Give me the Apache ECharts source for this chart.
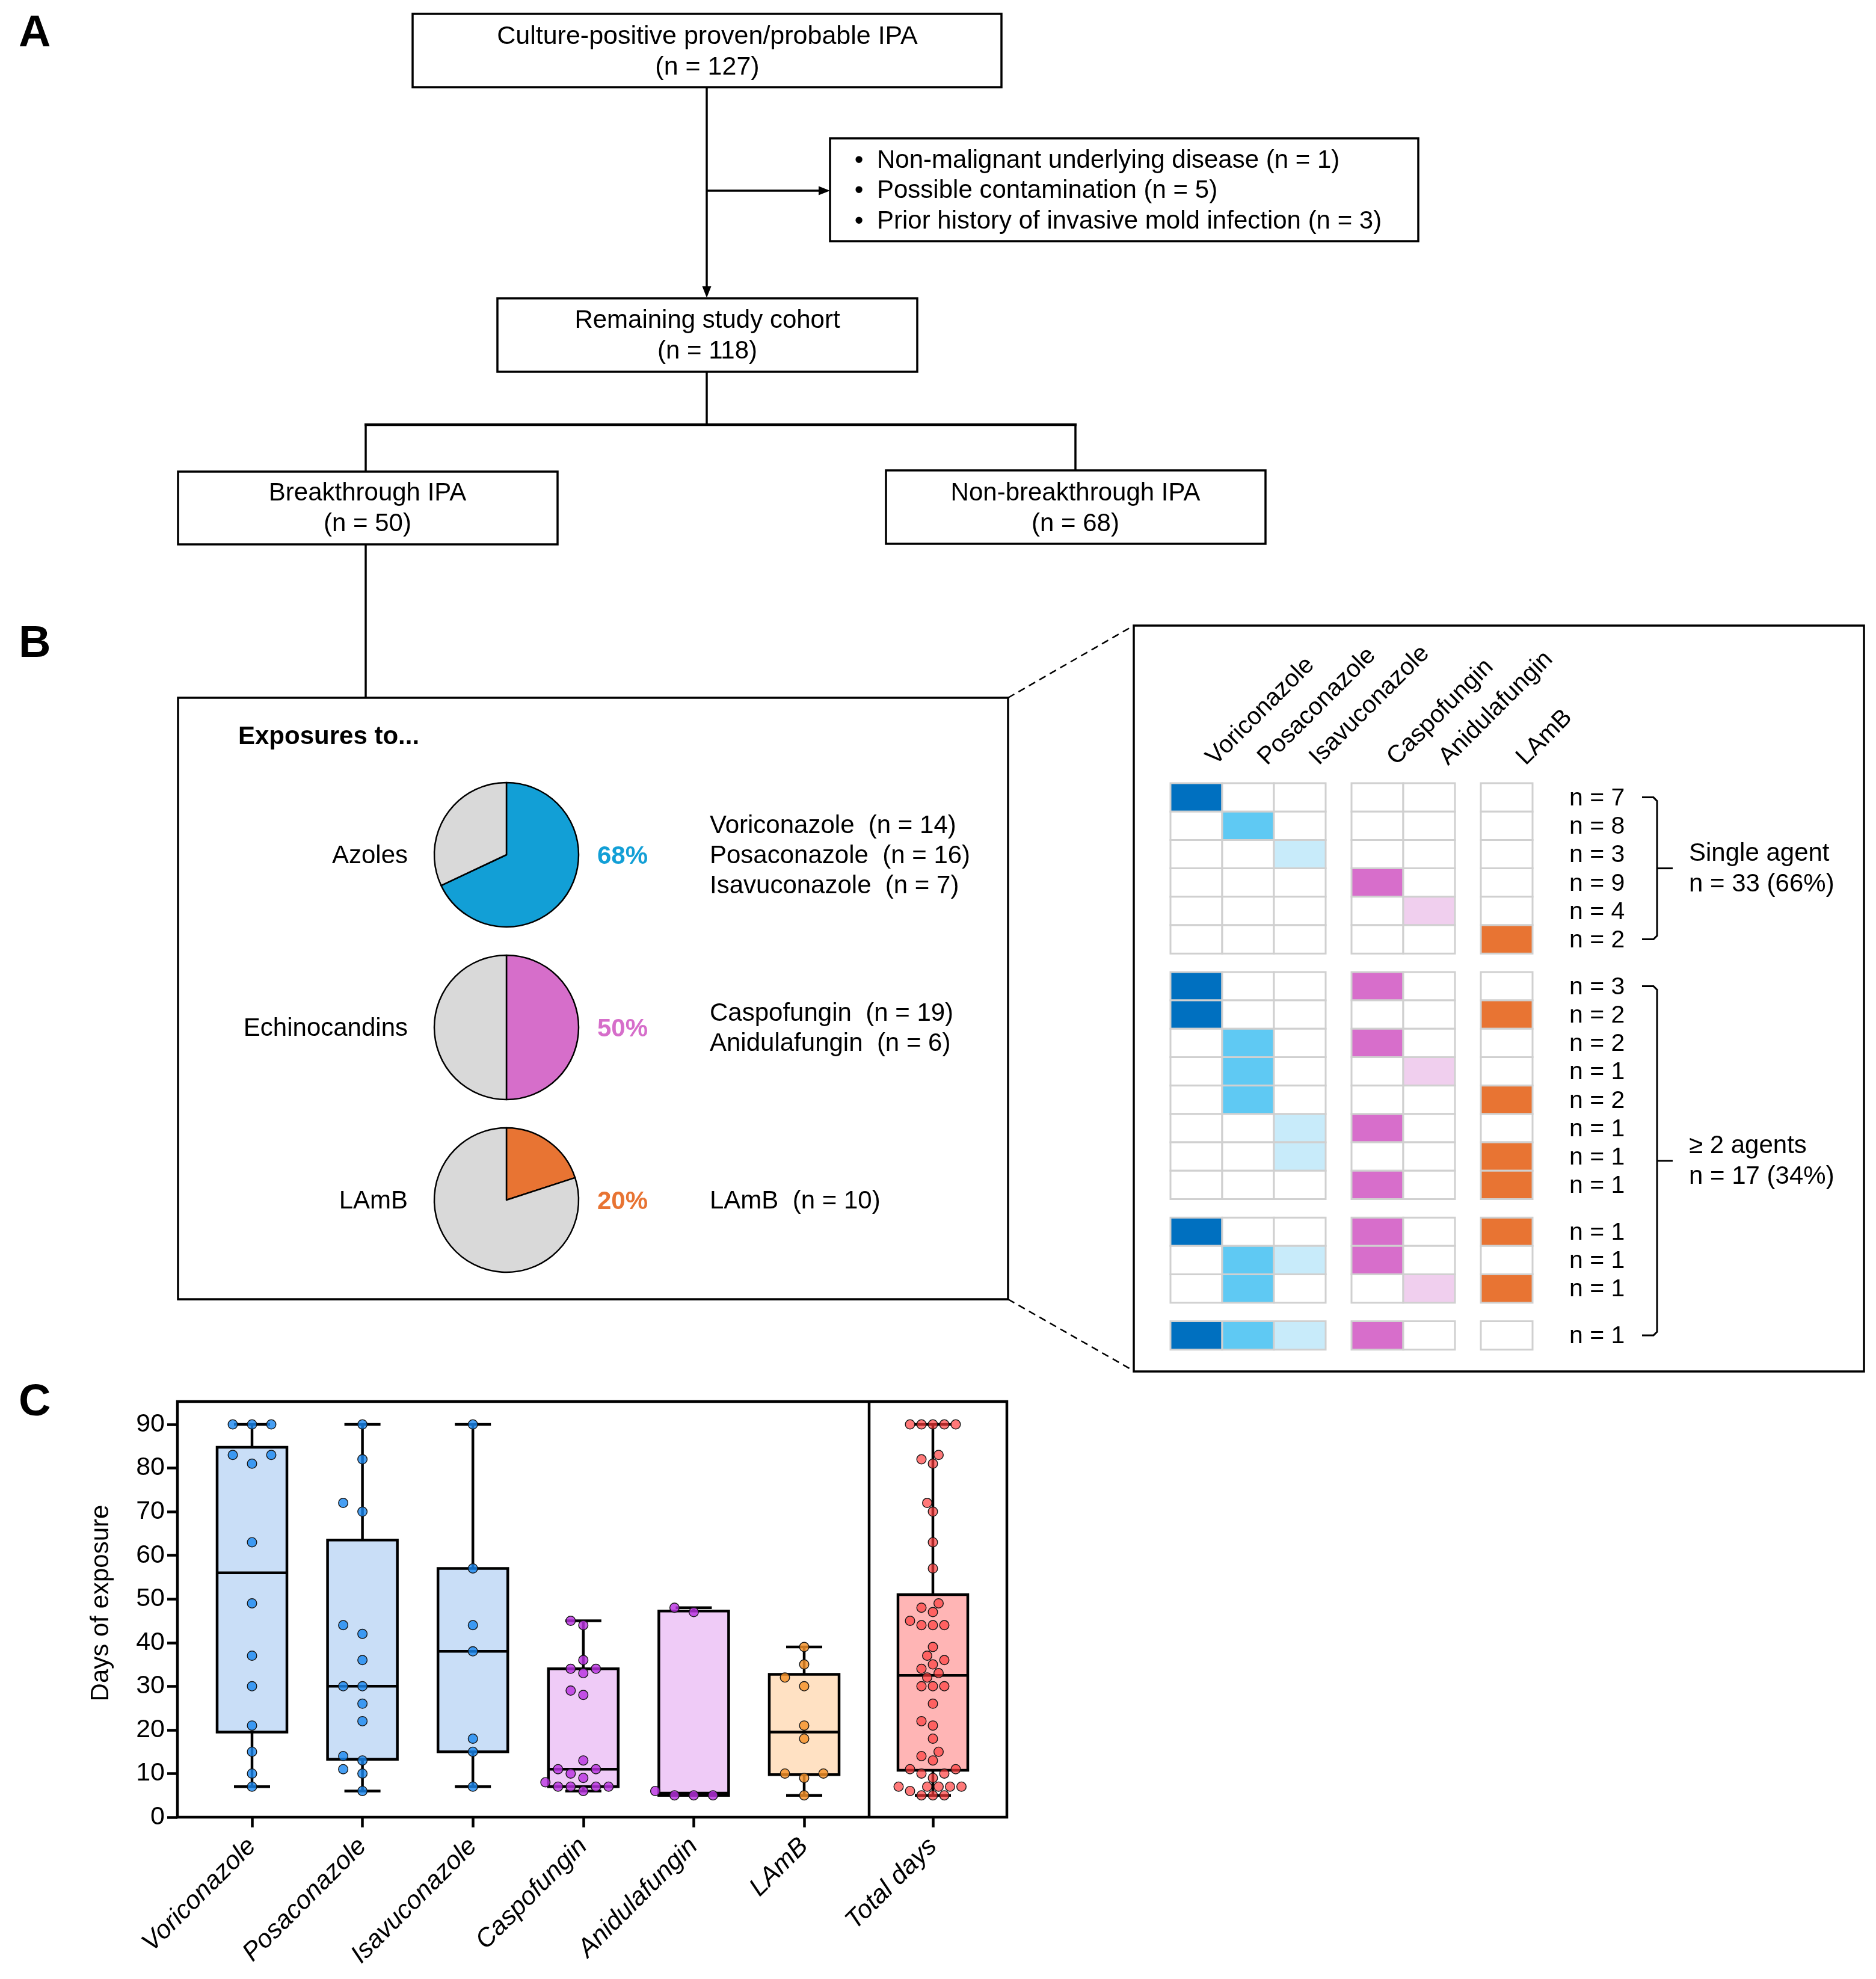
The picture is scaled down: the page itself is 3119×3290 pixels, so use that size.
<!DOCTYPE html>
<html>
<head>
<meta charset="utf-8">
<title>Breakthrough IPA</title>
<script src="https://cdn.jsdelivr.net/npm/echarts@6/dist/echarts.min.js"></script>
<style>
html,body{margin:0;padding:0;background:#ffffff;}
#chart{width:3119px;height:3290px;}
</style>
</head>
<body>
<div id="chart"></div>
<script>
// ================= DATA =================
const cohortTotal = 127;
const exclusionLabels = ['Non-malignant underlying disease', 'Possible contamination', 'Prior history of invasive mold infection'];
const exclusionN = [1, 5, 3];
const cohortRemaining = 118;
const breakthroughN = 50;
const nonBreakthroughN = 68;

const classNames = ['Azoles', 'Echinocandins', 'LAmB'];
const classPercent = [68, 50, 20];

const drugNames = ['Voriconazole', 'Posaconazole', 'Isavuconazole', 'Caspofungin', 'Anidulafungin', 'LAmB'];
const drugN = [14, 16, 7, 19, 6, 10];
const drugClass = [0, 0, 0, 1, 1, 2];

// regimen rows of the exposure matrix (indices into drugNames)
const regimens = [[0], [1], [2], [3], [4], [5],
  [0, 3], [0, 5], [1, 3], [1, 4], [1, 5], [2, 3], [2, 5], [3, 5],
  [0, 3, 5], [1, 2, 3], [1, 4, 5],
  [0, 1, 2, 3]];
const regimenN = [7, 8, 3, 9, 4, 2, 3, 2, 2, 1, 2, 1, 1, 1, 1, 1, 1, 1];
const regimenBlock = [0, 0, 0, 0, 0, 0, 1, 1, 1, 1, 1, 1, 1, 1, 2, 2, 2, 3];

// days of exposure (panel C)
const daysVoriconazole = [90, 90, 90, 83, 83, 81, 63, 49, 37, 30, 21, 15, 10, 7];
const daysPosaconazole = [90, 82, 72, 70, 44, 42, 36, 30, 30, 26, 22, 14, 13, 11, 10, 6];
const daysIsavuconazole = [90, 57, 44, 38, 18, 15, 7];
const daysCaspofungin = [45, 44, 36, 34, 34, 33, 29, 28, 13, 11, 11, 10, 9, 8, 7, 7, 7, 7, 6];
const daysAnidulafungin = [48, 47, 6, 5, 5, 5];
const daysLAmB = [39, 35, 32, 30, 21, 18, 10, 10, 9, 5];
const daysTotal = [90, 90, 90, 90, 90, 83, 82, 81, 72, 70, 63, 57, 49, 48, 47, 45, 44, 44, 44, 39, 37, 36, 35, 34, 33, 32,
  30, 30, 30, 26, 22, 21, 18, 15, 14, 13, 11, 11, 10, 10, 9, 7, 7, 7, 7, 7, 6, 5, 5, 5];
const totalCategory = ['Total days'];
const yAxisTitle = 'Days of exposure';

// ================= STYLE =================
const FONT = '"Liberation Sans", Arial, Helvetica, sans-serif';
const drugColors = ['#0070C0', '#5FC9F3', '#C8EBFA', '#D76ECB', '#F0CFEE', '#E87433'];
const classColors = ['#129FD6', '#D66ECA', '#E87433'];
const restColor = '#D9D9D9';
const boxFills = ['#C9DEF7', '#C9DEF7', '#C9DEF7', '#EFCBF7', '#EFCBF7', '#FFE1C3'];
const totalFill = '#FFB5B5';
const pointFills = ['rgba(25,135,240,0.80)', 'rgba(25,135,240,0.80)', 'rgba(25,135,240,0.80)',
  'rgba(185,50,225,0.82)', 'rgba(185,50,225,0.82)', 'rgba(245,145,40,0.82)'];
const totalPointFill = 'rgba(255,58,58,0.68)';

// ================= HELPERS =================
function font(size, weight, style) {
  return (style || 'normal') + ' ' + (weight || 'normal') + ' ' + size + 'px ' + FONT;
}
function txt(x, y, text, o) {
  o = o || {};
  return {
    type: 'text', x: x, y: y, rotation: o.rotation || 0, z: 30, silent: true,
    style: {
      text: text, fill: o.fill || '#000', font: font(o.size || 42, o.weight, o.fontStyle),
      align: o.align || 'left', textAlign: o.align || 'left',
      verticalAlign: o.va || 'middle', textVerticalAlign: o.va || 'middle',
      lineHeight: o.lh || 50
    }
  };
}
function line(x1, y1, x2, y2, w, dash) {
  return { type: 'line', z: 25, silent: true, shape: { x1: x1, y1: y1, x2: x2, y2: y2 },
    style: { stroke: '#000', lineWidth: w || 3.5, lineDash: dash || null } };
}
function rect(x, y, w, h, lw) {
  return { type: 'rect', z: 25, silent: true, shape: { x: x, y: y, width: w, height: h },
    style: { fill: null, stroke: '#000', lineWidth: lw || 3.5 } };
}
function poly(points, fill) {
  return { type: 'polygon', z: 26, silent: true, shape: { points: points }, style: { fill: fill || '#000' } };
}
function pline(points, w) {
  return { type: 'polyline', z: 25, silent: true, shape: { points: points },
    style: { fill: null, stroke: '#000', lineWidth: w || 3.5 } };
}
// Prism-like quartiles ((n+1)p positions)
function quant(sorted, p) {
  const n = sorted.length, pos = (n + 1) * p, lo = Math.floor(pos), fr = pos - lo;
  if (lo < 1) return sorted[0];
  if (lo >= n) return sorted[n - 1];
  return sorted[lo - 1] + fr * (sorted[lo] - sorted[lo - 1]);
}
function boxStats(vals) {
  const s = vals.slice().sort((a, b) => a - b);
  return [s[0], quant(s, 0.25), quant(s, 0.5), quant(s, 0.75), s[s.length - 1]];
}
// deterministic beeswarm: slot offsets in px
function swarm(vals, pxPerUnit) {
  const D = 15.6, maxW = 123;
  const order = vals.map((v, i) => i).sort((a, b) => vals[a] - vals[b] || a - b);
  let last = null;
  for (let s = 32; s >= 6; s -= 0.5) {
    const slot = new Array(vals.length), placed = [];
    for (const i of order) {
      for (let k = 0; k < 60; k++) {
        const cand = k === 0 ? 0 : (k % 2 ? -Math.ceil(k / 2) : Math.ceil(k / 2));
        let ok = true;
        for (const j of placed) {
          const dx = (cand - slot[j]) * s, dy = (vals[i] - vals[j]) * pxPerUnit;
          if (dx * dx + dy * dy < D * D - 0.01) { ok = false; break; }
        }
        if (ok) { slot[i] = cand; placed.push(i); break; }
      }
    }
    const mn = Math.min.apply(null, slot), mx = Math.max.apply(null, slot);
    last = slot.map(k => k * s);
    if ((mx - mn) * s + D <= maxW) return last;
  }
  return last;
}

// ================= LAYOUT =================
const plotTop = 2368, plotBottom = 3021, band = 183.6;
const pxPerDay = (plotBottom - plotTop) / 90;
const c0 = 419;            // first category centre
const cTotal = 1551;       // total days centre
const mLeft = 1946, mTop = 1302, cellW = 86, cellH = 47.2, colGap = 0.5, rowGap = 0.65;
const mRows = regimens.length + rowGap * (regimenBlock[regimenBlock.length - 1]);
function rowCenterPx(r) { return mTop + (r + rowGap * regimenBlock[r] + 0.5) * cellH; }

const drugDays = [daysVoriconazole, daysPosaconazole, daysIsavuconazole, daysCaspofungin, daysAnidulafungin, daysLAmB];
const boxData = drugDays.map((d, i) => [i].concat(boxStats(d)));
const boxTotalData = [[0].concat(boxStats(daysTotal))];
const pointData = [];
drugDays.forEach((d, i) => { const off = swarm(d, pxPerDay); d.forEach((v, k) => pointData.push([i, v, off[k]])); });
const offT = swarm(daysTotal, pxPerDay);
const pointTotalData = daysTotal.map((v, k) => [0, v, offT[k]]);

const cellData = [];
regimens.forEach((reg, r) => {
  drugNames.forEach((nm, d) => {
    cellData.push([d + colGap * drugClass[d], r + rowGap * regimenBlock[r], reg.indexOf(d) >= 0 ? d : -1]);
  });
});
const colLabelData = drugNames.map((nm, d) => [d + colGap * drugClass[d] + 0.5, 0, d]);
const rowLabelData = regimens.map((reg, r) => [7, r + rowGap * regimenBlock[r] + 0.5, regimenN[r]]);

// ================= GRAPHIC (flowchart, frames, annotations) =================
const g = [];
// panel letters
g.push(txt(31, 57, 'A', { size: 74, weight: 'bold' }));
g.push(txt(31, 1072, 'B', { size: 74, weight: 'bold' }));
g.push(txt(31, 2333, 'C', { size: 74, weight: 'bold' }));

// Panel A flowchart
g.push(rect(686, 23, 979, 122));
g.push(txt(1176, 87, 'Culture-positive proven/probable IPA\n(n = ' + cohortTotal + ')', { align: 'center', lh: 51, size: 43 }));
g.push(line(1175, 145, 1175, 480));
g.push(poly([[1175, 495], [1167.5, 476], [1182.5, 476]]));
g.push(line(1175, 317, 1366, 317));
g.push(poly([[1380, 317], [1361, 309.5], [1361, 324.5]]));
g.push(rect(1380, 230, 978, 171));
exclusionLabels.forEach((l, i) => {
  const y = 267 + i * 50.5;
  g.push(txt(1428, y, '•', { align: 'center' }));
  g.push(txt(1458, y, l + ' (n = ' + exclusionN[i] + ')'));
});
g.push(rect(827, 496, 698, 122));
g.push(txt(1176, 559, 'Remaining study cohort\n(n = ' + cohortRemaining + ')', { align: 'center', lh: 51 }));
g.push(line(1175, 618, 1175, 706));
g.push(line(606, 706, 1790, 706, 4.5));
g.push(line(608, 706, 608, 784));
g.push(line(1788, 706, 1788, 782));
g.push(rect(296, 784, 631, 121));
g.push(txt(611, 846, 'Breakthrough IPA\n(n = ' + breakthroughN + ')', { align: 'center', lh: 51 }));
g.push(rect(1473, 782, 631, 122));
g.push(txt(1788, 846, 'Non-breakthrough IPA\n(n = ' + nonBreakthroughN + ')', { align: 'center', lh: 51 }));
g.push(line(608, 905, 608, 1160));

// Panel B
g.push(rect(296, 1160, 1380, 1000));
g.push(line(1676, 1160, 1885, 1040, 2.5, [12, 8]));
g.push(line(1676, 2160, 1885, 2279, 2.5, [12, 8]));
g.push(rect(1885, 1040, 1214, 1240));
g.push(txt(396, 1225, 'Exposures to...', { weight: 'bold' }));
const pieCY = [1421, 1708, 1995];
classNames.forEach((c, i) => {
  g.push(txt(678, pieCY[i] + 2, c, { align: 'right' }));
  g.push(txt(993, pieCY[i] + 3, classPercent[i] + '%', { weight: 'bold', fill: classColors[i] }));
  const lines = drugNames.map((n, d) => drugClass[d] === i ? n + '  (n = ' + drugN[d] + ')' : null).filter(Boolean);
  g.push(txt(1180, pieCY[i] + 2, lines.join('\n'), { lh: 50 }));
});

// brackets
const singleLast = regimens.filter(r => r.length === 1).length - 1;
const brackets = [[0, singleLast], [singleLast + 1, regimens.length - 1]];
const sumN = (a, b) => regimenN.slice(a, b + 1).reduce((s, v) => s + v, 0);
const groupTitles = ['Single agent', '≥ 2 agents'];
brackets.forEach((br, i) => {
  const top = rowCenterPx(br[0]), bot = rowCenterPx(br[1]);
  const mid = (top + bot) / 2;
  g.push(pline([[2730, top], [2749, top], [2755, top + 6], [2755, bot - 6], [2749, bot], [2730, bot]], 3));
  g.push(line(2755, mid, 2781, mid, 3));
  const n = sumN(br[0], br[1]);
  g.push(txt(2808, mid + 1, groupTitles[i] + '\nn = ' + n + ' (' + Math.round(n / breakthroughN * 100) + '%)', { lh: 51 }));
});

// Panel C frame
g.push(rect(295, 2330, 1379, 691, 4.5));
g.push(line(1445, 2330, 1445, 3021, 4.5));
g.push(txt(168, 2665, yAxisTitle, { align: 'center', rotation: Math.PI / 2 }));

// ================= RENDERERS =================
function renderBox(fills) {
  return function (params, api) {
    const x = api.value(0);
    const bw = api.size([1, 0])[0] * 0.632, cw = 60;
    const cx = api.coord([x, 0])[0];
    const y = [1, 2, 3, 4, 5].map(k => api.coord([x, api.value(k)])[1]);
    const st = { stroke: '#000', lineWidth: 4.5, fill: null };
    return { type: 'group', children: [
      { type: 'rect', shape: { x: cx - bw / 2, y: y[3], width: bw, height: y[1] - y[3] }, style: { fill: fills[x], stroke: '#000', lineWidth: 4.5 } },
      { type: 'line', shape: { x1: cx, y1: y[3], x2: cx, y2: y[4] }, style: st },
      { type: 'line', shape: { x1: cx, y1: y[1], x2: cx, y2: y[0] }, style: st },
      { type: 'line', shape: { x1: cx - cw / 2, y1: y[4], x2: cx + cw / 2, y2: y[4] }, style: st },
      { type: 'line', shape: { x1: cx - cw / 2, y1: y[0], x2: cx + cw / 2, y2: y[0] }, style: st },
      { type: 'line', shape: { x1: cx - bw / 2, y1: y[2], x2: cx + bw / 2, y2: y[2] }, style: st }
    ] };
  };
}
function renderPoint(fills) {
  return function (params, api) {
    const p = api.coord([api.value(0), api.value(1)]);
    return { type: 'circle', shape: { cx: p[0] + api.value(2), cy: p[1], r: 7.8 },
      style: { fill: fills[api.value(0)], stroke: '#151515', lineWidth: 1.4 } };
  };
}
function renderCell(params, api) {
  const p0 = api.coord([api.value(0), api.value(1)]);
  const p1 = api.coord([api.value(0) + 1, api.value(1) + 1]);
  const c = api.value(2);
  return { type: 'rect', shape: { x: p0[0], y: p0[1], width: p1[0] - p0[0], height: p1[1] - p0[1] },
    style: { fill: c >= 0 ? drugColors[c] : '#ffffff', stroke: '#D0D0D0', lineWidth: 3 } };
}
function renderColLabel(params, api) {
  const p = api.coord([api.value(0), 0]);
  return { type: 'text', x: p[0] + 38, y: p[1] - 22, rotation: Math.PI / 4,
    style: { text: drugNames[api.value(2)], fill: '#000', font: font(41), align: 'left', textAlign: 'left', verticalAlign: 'bottom', textVerticalAlign: 'bottom' } };
}
function renderRowLabel(params, api) {
  const p = api.coord([api.value(0), api.value(1)]);
  return { type: 'text', x: p[0] + 61, y: p[1] + 2,
    style: { text: 'n = ' + api.value(2), fill: '#000', font: font(41), align: 'left', textAlign: 'left', verticalAlign: 'middle', textVerticalAlign: 'middle' } };
}

// ================= OPTION =================
const catAxisCommon = {
  type: 'category', boundaryGap: true,
  axisLine: { show: false },
  axisTick: { show: true, alignWithLabel: true, length: 17, lineStyle: { color: '#000', width: 4.5 } },
  axisLabel: { interval: 0, rotate: 45, margin: 42, color: '#000', fontSize: 43, fontStyle: 'italic', fontFamily: FONT },
  splitLine: { show: false }
};
const option = {
  backgroundColor: '#ffffff',
  animation: false,
  graphic: { elements: g },
  grid: [
    { left: c0 - band / 2, top: plotTop, width: band * 6, height: plotBottom - plotTop, containLabel: false, outerBoundsMode: 'none' },
    { left: cTotal - band / 2, top: plotTop, width: band, height: plotBottom - plotTop, containLabel: false, outerBoundsMode: 'none' },
    { left: mLeft, top: mTop, width: cellW * 7, height: cellH * mRows, containLabel: false, outerBoundsMode: 'none' }
  ],
  xAxis: [
    Object.assign({ gridIndex: 0, data: drugNames }, catAxisCommon),
    Object.assign({ gridIndex: 1, data: totalCategory }, catAxisCommon),
    { gridIndex: 2, type: 'value', min: 0, max: 7, show: false }
  ],
  yAxis: [
    { gridIndex: 0, type: 'value', min: 0, max: 90, interval: 10, offset: c0 - band / 2 - 295,
      axisLine: { show: false },
      axisTick: { show: true, length: 17, lineStyle: { color: '#000', width: 4.5 } },
      axisLabel: { color: '#000', fontSize: 43, fontFamily: FONT, margin: 21 },
      splitLine: { show: false } },
    { gridIndex: 1, type: 'value', min: 0, max: 90, interval: 10, show: false, splitLine: { show: false } },
    { gridIndex: 2, type: 'value', min: 0, max: mRows, inverse: true, show: false }
  ],
  series: [
    { type: 'custom', name: 'box', xAxisIndex: 0, yAxisIndex: 0, silent: true, clip: false, z: 2,
      renderItem: renderBox(boxFills), data: boxData },
    { type: 'custom', name: 'boxTotal', xAxisIndex: 1, yAxisIndex: 1, silent: true, clip: false, z: 2,
      renderItem: renderBox([totalFill]), data: boxTotalData },
    { type: 'custom', name: 'points', xAxisIndex: 0, yAxisIndex: 0, silent: true, clip: false, z: 3,
      renderItem: renderPoint(pointFills), data: pointData },
    { type: 'custom', name: 'pointsTotal', xAxisIndex: 1, yAxisIndex: 1, silent: true, clip: false, z: 3,
      renderItem: renderPoint([totalPointFill]), data: pointTotalData },
    { type: 'custom', name: 'matrix', xAxisIndex: 2, yAxisIndex: 2, silent: true, clip: false,
      renderItem: renderCell, data: cellData },
    { type: 'custom', name: 'colLabels', xAxisIndex: 2, yAxisIndex: 2, silent: true, clip: false,
      renderItem: renderColLabel, data: colLabelData },
    { type: 'custom', name: 'rowLabels', xAxisIndex: 2, yAxisIndex: 2, silent: true, clip: false,
      renderItem: renderRowLabel, data: rowLabelData }
  ].concat(classPercent.map((p, i) => ({
    type: 'pie', center: [842, pieCY[i]], radius: 120, startAngle: 90, clockwise: true,
    silent: true, label: { show: false }, labelLine: { show: false },
    itemStyle: { borderColor: '#000', borderWidth: 2.5 },
    emphasis: { disabled: true },
    data: [{ value: p, name: classNames[i], itemStyle: { color: classColors[i] } },
           { value: 100 - p, name: 'other', itemStyle: { color: restColor } }]
  })))
};

const chart = echarts.init(document.getElementById('chart'), null, { renderer: 'canvas', width: 3119, height: 3290 });
chart.setOption(option);
</script>
</body>
</html>
